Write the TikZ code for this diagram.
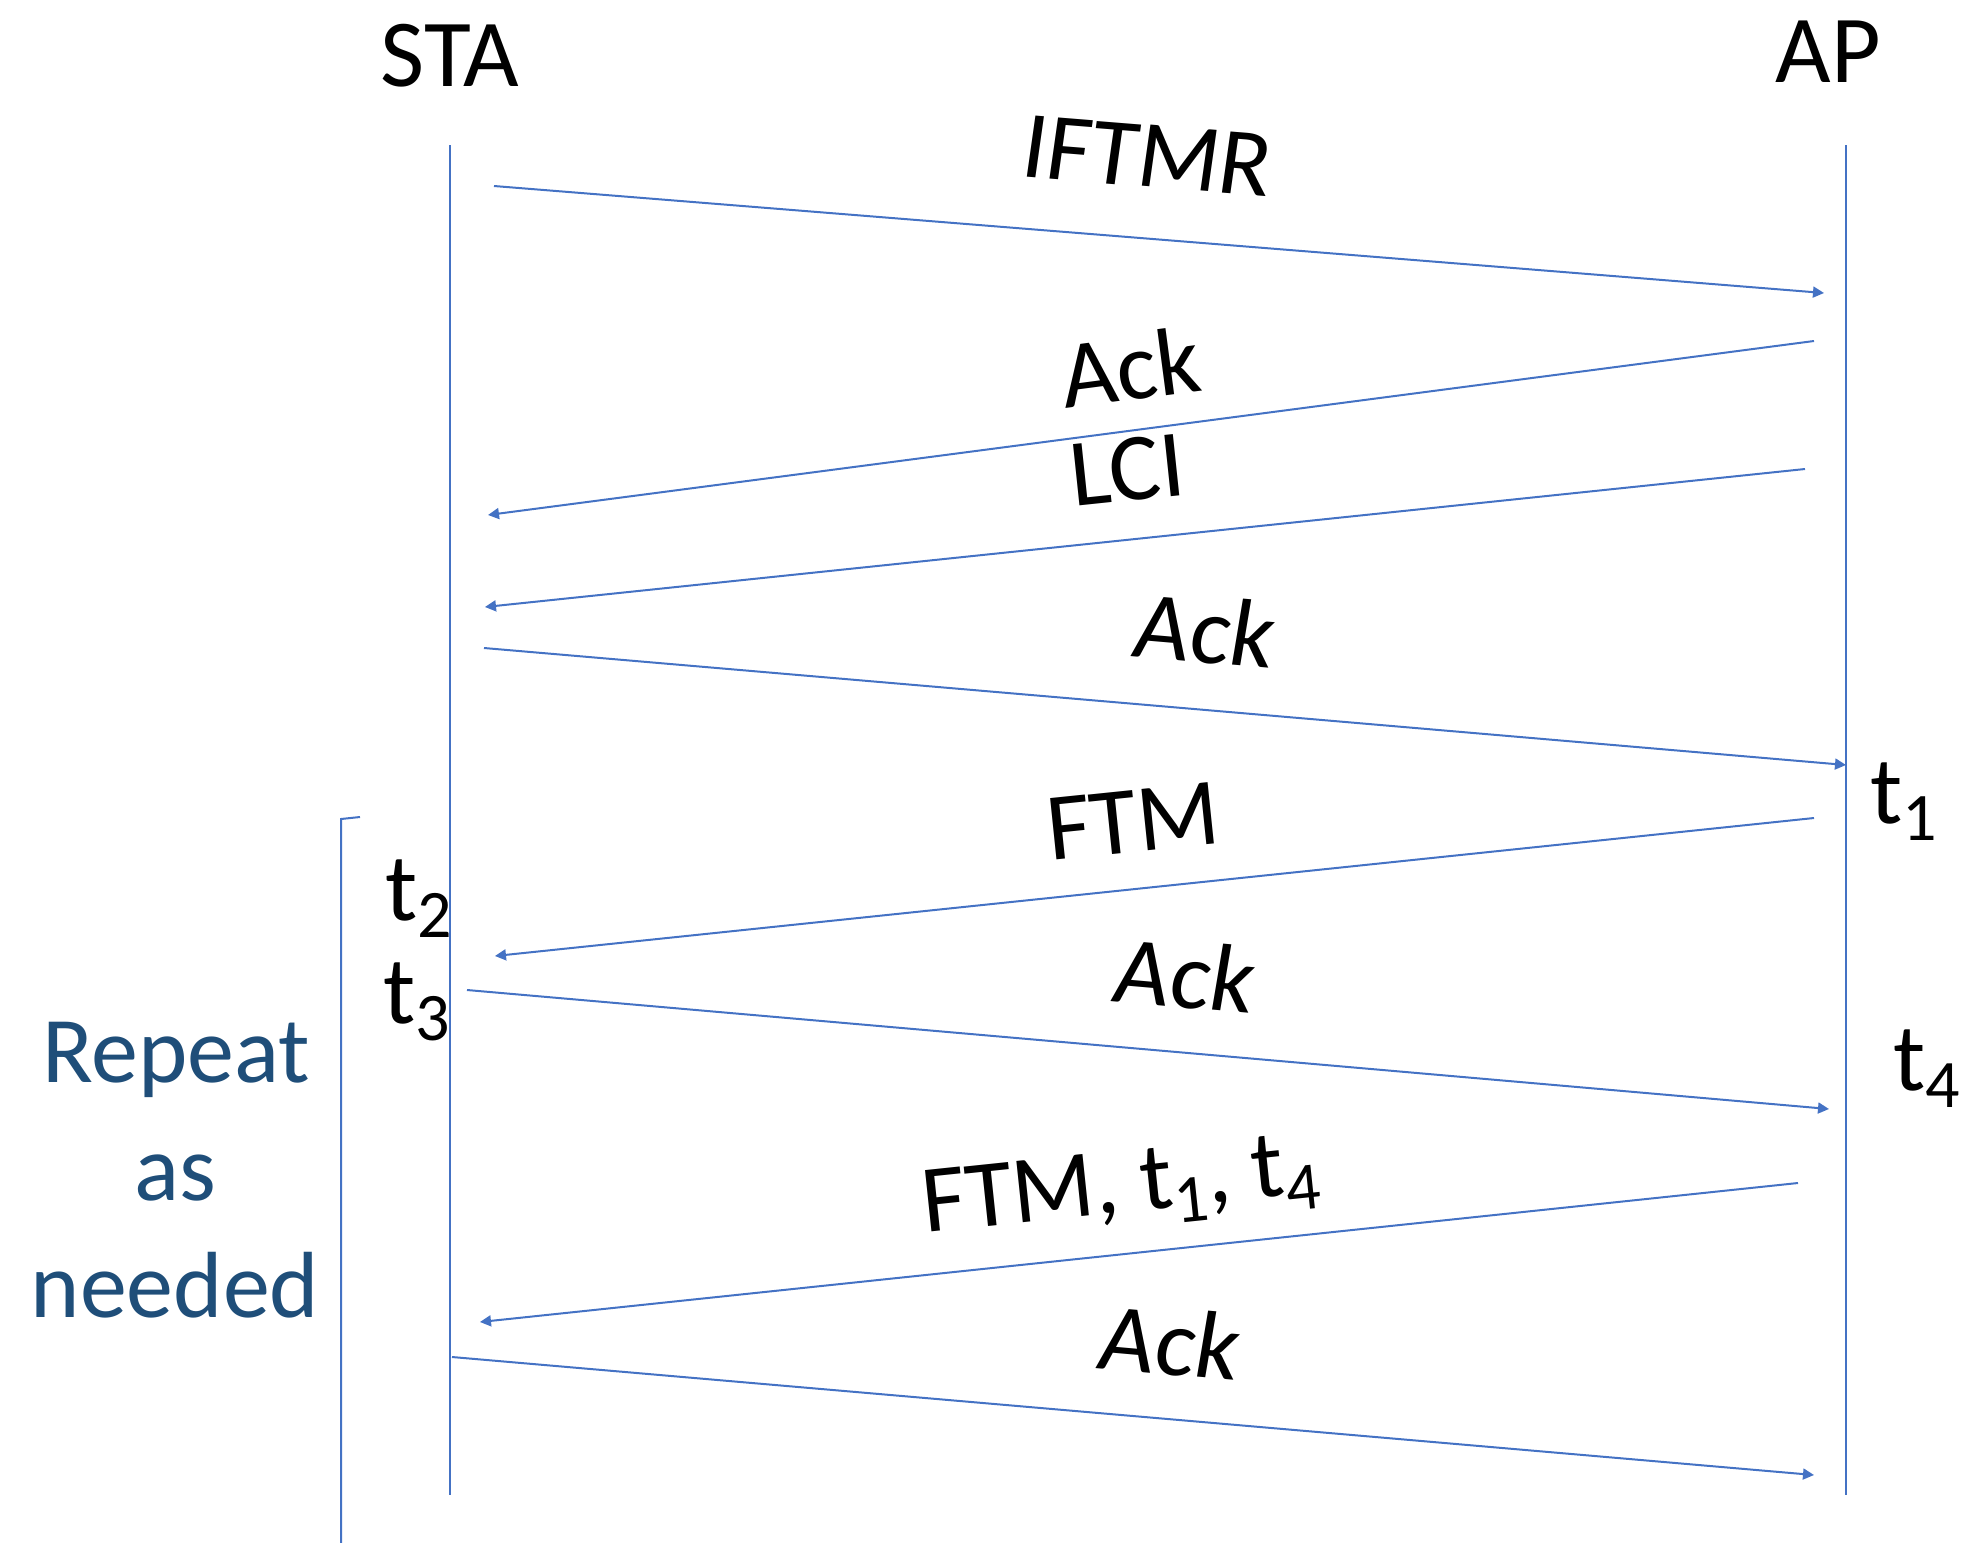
\documentclass[tikz,border=0pt]{standalone}
\usepackage{fontspec}
\setmainfont{Carlito}
\usetikzlibrary{arrows.meta}
\definecolor{lineblue}{HTML}{4472C4}
\definecolor{textblue}{HTML}{1F4E79}
\newcommand\subsc[1]{\raisebox{-8.5pt}{\fontsize{34}{34}\selectfont #1}}
\begin{document}
\begin{tikzpicture}[x=0.5pt,y=-0.5pt,
  lifeline/.style={draw=lineblue, line width=1.25pt},
  msg/.style={draw=lineblue, line width=1pt, -{Triangle[length=5.5pt,width=5.5pt]}},
  lbl/.style={font=\fontsize{48}{58}\selectfont, inner sep=0pt},
  tlbl/.style={lbl, anchor=base west},
  rep/.style={font=\fontsize{47}{57}\selectfont, text=textblue, anchor=base, inner sep=0pt}]
\useasboundingbox (0,0) rectangle (1961,1543);

% headers
\node[lbl] (sta) at (450,56) {STA};
\node[lbl] (ap) at (1828,52) {AP};

% lifelines
\coordinate (staTop) at (450,145);
\coordinate (staBot) at (450,1495);
\coordinate (apTop) at (1846,145);
\coordinate (apBot) at (1846,1495);
\draw[lifeline] (staTop) -- (staBot);
\draw[lifeline] (apTop) -- (apBot);

% bracket
\coordinate (brTop) at (360,817);
\coordinate (brCorner) at (341,819);
\coordinate (brBot) at (341,1543);
\draw[lifeline, line width=1pt] (brTop) -- (brCorner) -- (brBot);

% message end points
\coordinate (m1s) at (494,186);  \coordinate (m1e) at (1824,293);
\coordinate (m2s) at (1814,341); \coordinate (m2e) at (488,515);
\coordinate (m3s) at (1805,469); \coordinate (m3e) at (485,607);
\coordinate (m4s) at (484,648);  \coordinate (m4e) at (1846,765);
\coordinate (m5s) at (1814,818); \coordinate (m5e) at (495,956);
\coordinate (m6s) at (467,990);  \coordinate (m6e) at (1829,1109);
\coordinate (m7s) at (1798,1183); \coordinate (m7e) at (480,1322);
\coordinate (m8s) at (452,1357); \coordinate (m8e) at (1814,1475);

\draw[msg] (m1s) -- (m1e);
\draw[msg] (m2s) -- (m2e);
\draw[msg] (m3s) -- (m3e);
\draw[msg] (m4s) -- (m4e);
\draw[msg] (m5s) -- (m5e);
\draw[msg] (m6s) -- (m6e);
\draw[msg] (m7s) -- (m7e);
\draw[msg] (m8s) -- (m8e);

% message labels
\node[lbl, rotate=-4.6, xslant=0.06] (l1) at (1148,156) {IFTMR};
\node[lbl, rotate=7.5] (l2) at (1130,367) {Ack};
\node[lbl, rotate=6] (l3) at (1127,470) {LCI};
\node[lbl, rotate=-4.9, xslant=0.08] (l4) at (1206,630) {Ack};
\node[lbl, rotate=5.9] (l5) at (1133,821) {FTM};
\node[lbl, rotate=-5, xslant=0.08] (l6) at (1186,975) {Ack};
\node[lbl, rotate=6] (l7) at (1121,1190) {FTM, t\subsc{1}, t\subsc{4}};
\node[lbl, rotate=-5, xslant=0.08] (l8) at (1171,1342) {Ack};

% timestamps
\node[tlbl] (t1) at (1870,823) {t\subsc{1}};
\node[tlbl] (t2) at (385,920) {t\subsc{2}};
\node[tlbl] (t3) at (383,1023) {t\subsc{3}};
\node[tlbl] (t4) at (1893,1090) {t\subsc{4}};

% repeat text
\node[rep] (rep1) at (176,1082) {Repeat};
\node[rep] (rep2) at (175,1200) {as};
\node[rep] (rep3) at (175,1317) {needed};
\end{tikzpicture}
\end{document}
